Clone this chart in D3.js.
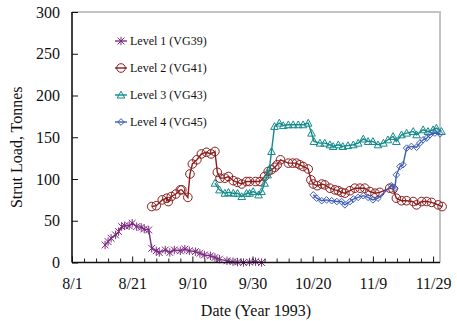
<!DOCTYPE html>
<html>
<head>
<meta charset="utf-8">
<script src="https://cdn.jsdelivr.net/npm/d3@7"></script>
<style>
  body { margin: 0; background: #fff; }
  svg { display: block; }
  text { font-family: "Liberation Serif", "Times New Roman", serif; fill: #111; }
</style>
</head>
<body>
<svg id="chart" width="457" height="321"></svg>
<script>
// Strut loads by level, days counted from 1 Aug 1993
const level1Days  = [11, 12, 13, 14.5, 15.5, 16.5, 17.5, 19, 20, 21.5, 23, 24, 25.5, 26.5, 28, 29, 31, 32.5, 34, 36, 37.5, 39, 41, 42.5, 44, 46, 47.5, 49, 51.5, 53.5, 55, 57, 59, 61, 63];
const level1Loads = [21, 25, 29, 33, 37, 43, 44, 44, 47, 43, 42, 40, 39, 17, 14, 12, 15, 12, 15, 14, 16, 14, 13, 11, 9, 8, 6, 4, 2, 1, 0.5, 0, 0.5, 1, 0];

const level2Days  = [26.5, 28, 30, 31.5, 32, 33, 34.5, 36, 36.5, 38.5, 39.2, 40, 41.5, 43, 44.7, 46.2, 47.5, 48.3, 49.2, 50.8, 52, 53.6, 55, 56.4, 58, 59, 61, 62.5, 64, 65.2, 66.3, 67.4, 68.2, 69.3, 71.9, 73.3, 74.6, 75.7, 76.8, 78.5, 79.4, 80.2, 81.5, 83, 84, 85.7, 87.4, 88.5, 89.6, 90.7, 92.4, 94, 95.7, 97.3, 99, 100.7, 102.3, 105.6, 106.7, 107.8, 109.5, 111.2, 113.4, 114.5, 116.2, 117.9, 119.5, 121.7, 123];
const level2Loads = [67, 68, 75, 77, 73, 79, 82, 87, 87, 78, 106, 118, 123, 130, 132, 130, 133, 108, 101, 101, 103, 98, 96, 94, 97, 97, 97, 97, 103, 109, 111, 114, 117, 123, 119, 119, 119, 117, 115, 112, 99, 94, 92, 94, 93, 89, 87, 86, 84, 83, 86, 89, 89, 89, 85, 83, 84, 89, 88, 77, 74, 74, 73, 69, 73, 73, 72, 69, 67];

const level3Days  = [47.5, 49, 50.8, 52, 53.6, 55, 56.4, 58, 59, 60.2, 62, 63, 64, 65, 65.6, 66.3, 67.3, 68.9, 70.2, 71.9, 73.5, 75.2, 76.8, 78.5, 79.6, 80.4, 82.4, 84, 85.7, 86.8, 88.5, 90, 91.7, 93.5, 95.1, 96.8, 98.4, 100, 101.7, 103.5, 105, 106.7, 107.8, 109.5, 111.2, 113.4, 114.5, 116.7, 118.3, 120, 121.1, 122.8];
const level3Loads = [95, 87, 83, 84, 83, 83, 79, 83, 83, 85, 81, 85, 95, 105, 112, 133, 163, 167, 164, 165, 165, 165, 165, 167, 155, 145, 143, 143, 141, 139, 141, 139, 140, 141, 143, 148, 145, 145, 141, 143, 147, 151, 145, 153, 155, 157, 153, 159, 157, 159, 161, 157];

const level4Days  = [80.2, 81.3, 83, 84.6, 86.3, 88, 89.6, 90.7, 92.4, 93.5, 95.1, 96.8, 98.4, 100, 101.7, 106.2, 107.3, 107.8, 109, 110, 111.2, 112.8, 114.5, 115.6, 116.7, 117.9, 119, 120.6, 122.3];
const level4Loads = [81, 77, 74, 75, 74, 73, 73, 69, 73, 76, 78, 80, 78, 75, 77, 92, 89, 105, 115, 117, 137, 139, 138, 143, 147, 149, 153, 155, 154];

const seriesNames = ["Level 1 (VG39)", "Level 2 (VG41)", "Level 3 (VG43)", "Level 4 (VG45)"];

const xTickDays   = [0, 20, 40, 60, 80, 100, 120];
const xTickLabels = ["8/1", "8/21", "9/10", "9/30", "10/20", "11/9", "11/29"];
const yTicks      = [0, 50, 100, 150, 200, 250, 300];

const colors  = ["#7b2a80", "#8b1c1c", "#138a8a", "#3d5cb8"];
const markers = ["star", "circle", "triangle", "diamond"];

const series = [
  { days: level1Days, loads: level1Loads },
  { days: level2Days, loads: level2Loads },
  { days: level3Days, loads: level3Loads },
  { days: level4Days, loads: level4Loads }
].map((s, i) => ({
  name: seriesNames[i], color: colors[i], marker: markers[i],
  points: s.days.map((d, j) => ({ day: d, load: s.loads[j] }))
}));

const svg = d3.select("#chart");
const plotLeft = 72, plotRight = 440, plotTop = 12, plotBottom = 262.5;

const x = d3.scaleLinear().domain([0, 122.3]).range([plotLeft, plotRight]);
const y = d3.scaleLinear().domain([0, 300]).range([plotBottom, plotTop]);

// light frame on the top and right edges
svg.append("path")
  .attr("d", `M${plotLeft},${plotTop}H${plotRight}V${plotBottom}`)
  .attr("fill", "none").attr("stroke", "#c4c4c4").attr("stroke-width", 2);

function markerPath(type) {
  switch (type) {
    case "star": { const s = 3.4, v = 4.2;
      return `M${-s},${-s}L${s},${s}M${-s},${s}L${s},${-s}M0,${-v}L0,${v}`; }
    case "circle": { const r = 4.3;
      return `M${r},0A${r},${r} 0 1,1 ${-r},0A${r},${r} 0 1,1 ${r},0Z`; }
    case "triangle": { const h = 3.8;
      return `M0,${-h}L${h},${h * 0.8}L${-h},${h * 0.8}Z`; }
    case "diamond": { const d = 3.3;
      return `M0,${-d}L${d},0L0,${d}L${-d},0Z`; }
  }
}

const line = d3.line().x(p => x(p.day)).y(p => y(p.load));

const gSeries = svg.append("g").selectAll("g").data(series).join("g");
gSeries.append("path")
  .attr("d", s => line(s.points))
  .attr("fill", "none").attr("stroke", s => s.color).attr("stroke-width", 1.4);
gSeries.each(function (s) {
  d3.select(this).selectAll("path.mk").data(s.points).join("path")
    .attr("class", "mk")
    .attr("transform", p => `translate(${x(p.day)},${y(p.load)})`)
    .attr("d", markerPath(s.marker))
    .attr("fill", "none").attr("stroke", s.color).attr("stroke-width", 1);
});

// axes
const minorDays = d3.range(0, 121, 4).filter(d => d % 20 !== 0);
svg.append("g").attr("transform", `translate(0,${plotBottom})`)
  .call(d3.axisBottom(x).tickValues(minorDays).tickSize(-4).tickSizeOuter(0).tickFormat(""))
  .call(g => g.select(".domain").remove())
  .call(g => g.selectAll(".tick line").attr("stroke", "#222"));

svg.append("g").attr("transform", `translate(0,${plotBottom})`)
  .call(d3.axisBottom(x).tickValues(xTickDays).tickSize(-6).tickSizeOuter(0).tickPadding(15)
    .tickFormat((d, i) => xTickLabels[i]))
  .call(g => g.select(".domain").attr("d", `M${plotLeft},0H${plotRight}`).attr("stroke", "#111").attr("stroke-width", 1.6))
  .call(g => g.selectAll(".tick line").attr("stroke", "#111"))
  .call(g => g.selectAll("text").attr("font-size", 16).attr("font-family", "Liberation Serif").attr("fill", "#111"));

svg.append("g").attr("transform", `translate(${plotLeft},0)`)
  .call(d3.axisLeft(y).tickValues(yTicks).tickSize(-6).tickSizeOuter(0).tickPadding(12))
  .call(g => g.select(".domain").attr("d", `M0,${plotBottom}V${plotTop}`).attr("stroke", "#111").attr("stroke-width", 1.6))
  .call(g => g.selectAll(".tick line").attr("stroke", "#111"))
  .call(g => g.selectAll("text").attr("font-size", 16).attr("font-family", "Liberation Serif").attr("fill", "#111"));

// axis titles
svg.append("text")
  .attr("transform", `translate(22,${(plotTop + plotBottom) / 2 + 10}) rotate(-90)`)
  .attr("text-anchor", "middle").attr("font-size", 16)
  .text("Strut Load, Tonnes");
svg.append("text")
  .attr("x", (plotLeft + plotRight) / 2).attr("y", 316)
  .attr("text-anchor", "middle").attr("font-size", 16)
  .text("Date (Year 1993)");

// legend
const legend = svg.append("g").selectAll("g").data(series).join("g")
  .attr("transform", (s, i) => `translate(115,${41 + i * 27})`);
legend.append("line").attr("x1", 0).attr("x2", 12)
  .attr("stroke", s => s.color).attr("stroke-width", 1.4);
legend.append("path").attr("transform", "translate(6,0)")
  .attr("d", s => markerPath(s.marker))
  .attr("fill", "none").attr("stroke", s => s.color).attr("stroke-width", 1);
legend.append("text").attr("x", 15).attr("dy", "0.35em")
  .attr("font-size", 12).text(s => s.name);
</script>
</body>
</html>
